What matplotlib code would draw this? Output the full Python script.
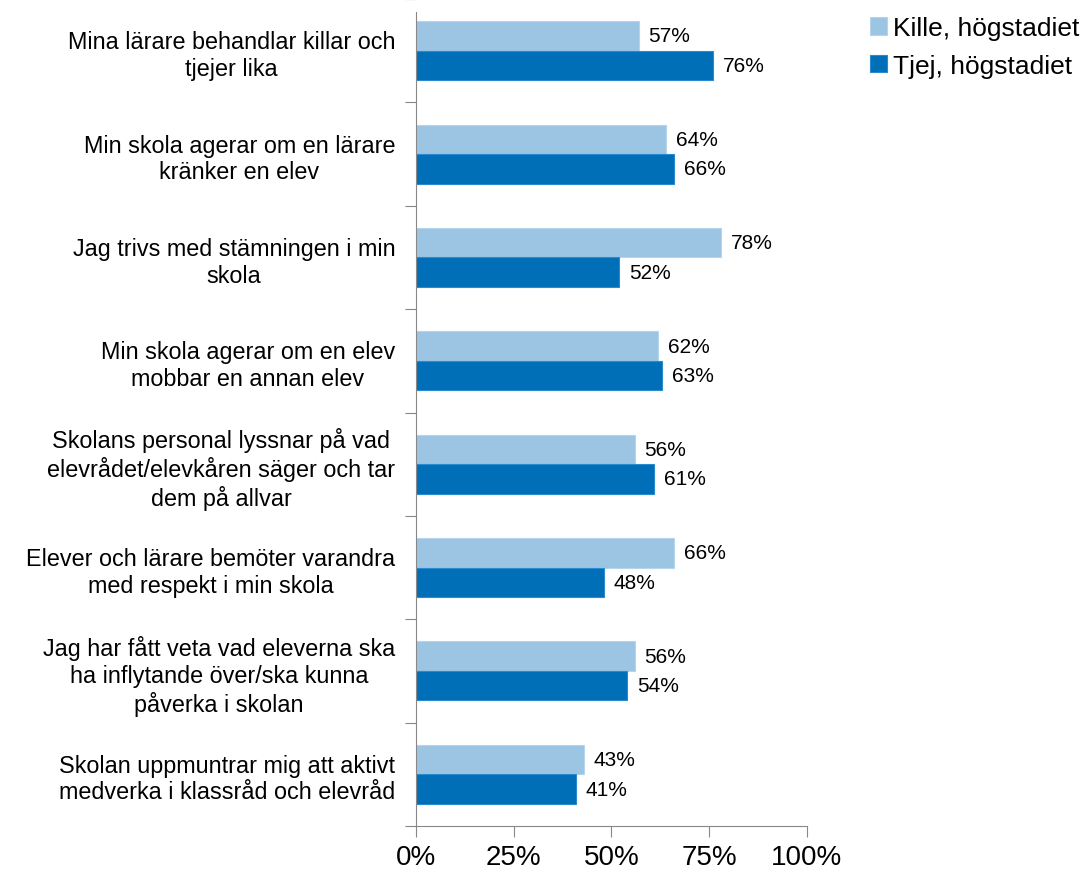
import matplotlib.pyplot as plt
import numpy as np

# Survey statements (top to bottom as shown)
categories = [
    'Mina lärare behandlar killar och\ntjejer lika',
    'Min skola agerar om en lärare\nkränker en elev',
    'Jag trivs med stämningen i min\nskola',
    'Min skola agerar om en elev\nmobbar en annan elev',
    'Skolans personal lyssnar på vad\nelevrådet/elevkåren säger och tar\ndem på allvar',
    'Elever och lärare bemöter varandra\nmed respekt i min skola',
    'Jag har fått veta vad eleverna ska\nha inflytande över/ska kunna\npåverka i skolan',
    'Skolan uppmuntrar mig att aktivt\nmedverka i klassråd och elevråd',
]
kille = [57, 64, 78, 62, 56, 66, 56, 43]
tjej = [76, 66, 52, 63, 61, 48, 54, 41]
series_names = ['Kille, högstadiet', 'Tjej, högstadiet']
xticks = [0, 25, 50, 75, 100]

plt.rcParams['font.family'] = ['Liberation Sans', 'DejaVu Sans']

fig = plt.figure(figsize=(10.87, 8.70), dpi=100)
ax = fig.add_axes([0.3827, 0.0494, 0.3594, 0.9506])

n = len(categories)
y = np.arange(n)
h = 0.285
light = '#9cc5e3'
dark = '#006fb8'

b1 = ax.barh(y - h / 2, kille, height=h, color=light, edgecolor='#b5d5ec', linewidth=0.8,
             label=series_names[0])
b2 = ax.barh(y + h / 2, tjej, height=h, color=dark, edgecolor='#2a8ad0', linewidth=0.8,
             label=series_names[1])
ax.bar_label(b1, labels=[str(v) + '%' for v in kille], padding=7, fontsize=15)
ax.bar_label(b2, labels=[str(v) + '%' for v in tjej], padding=7, fontsize=15)

ax.set_ylim(n - 0.5, -0.5)
ax.set_xlim(0, 100)

# boundaries as major ticks, labels on minor ticks at the centres
ax.set_yticks(np.arange(n + 1) - 0.5)
ax.set_yticklabels([])
ax.set_yticks(y, minor=True)
ax.set_yticklabels(categories, minor=True, fontsize=16.8)
for t in ax.get_yticklabels(minor=True):
    t.set_multialignment('center')
ax.tick_params(axis='y', which='major', length=8, color='#888888', direction='out')
ax.tick_params(axis='y', which='minor', length=0, pad=15)

ax.set_xticks(xticks)
ax.set_xticklabels([str(v) + '%' for v in xticks], fontsize=20)
ax.tick_params(axis='x', length=8, color='#888888', direction='out', pad=5)

for s in ['top', 'right']:
    ax.spines[s].set_visible(False)
for s in ['left', 'bottom']:
    ax.spines[s].set_color('#888888')
ax.spines['left'].set_bounds(n - 0.5, -0.37)

fig.legend(loc='upper left', bbox_to_anchor=(0.8, 0.98), frameon=False, fontsize=19,
           handlelength=0.65, handleheight=0.65, handletextpad=0.25, labelspacing=0.5,
           borderaxespad=0, borderpad=0)

fig.savefig('out.png', dpi=100)
